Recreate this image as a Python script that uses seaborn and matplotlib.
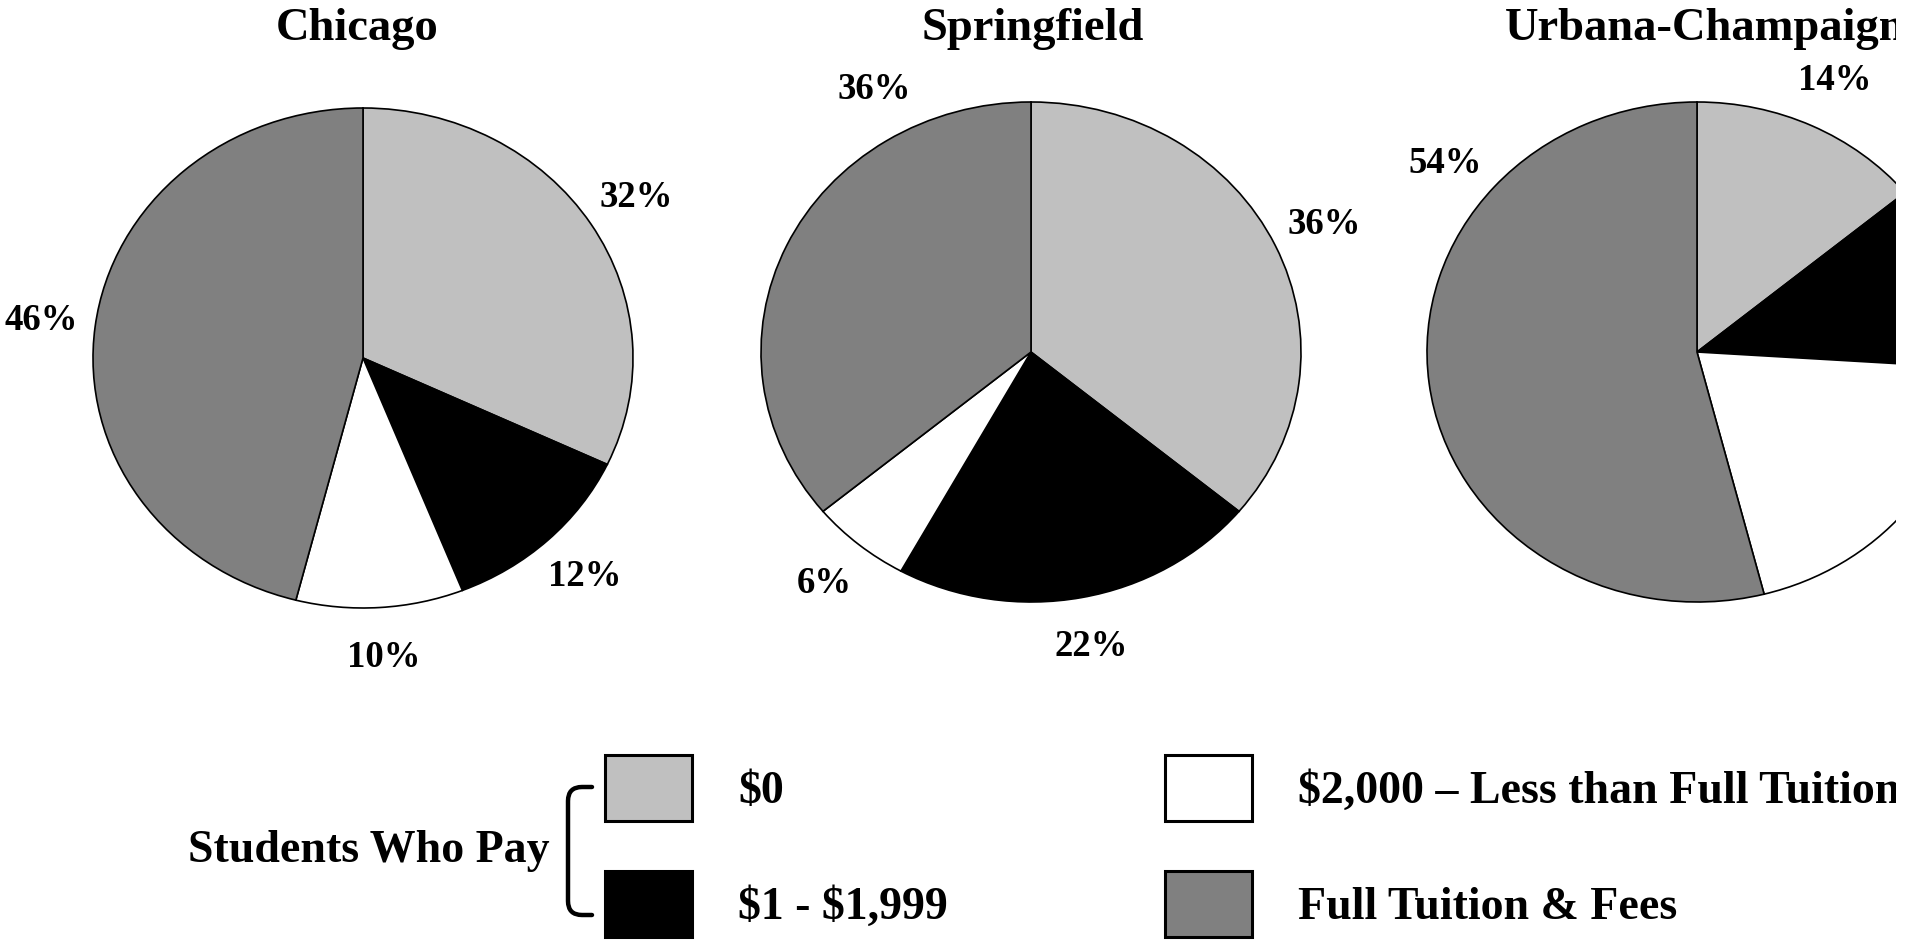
import matplotlib
matplotlib.use("Agg")
import numpy as np
import matplotlib.pyplot as plt
from matplotlib.path import Path
from matplotlib.patches import PathPatch, Rectangle
import seaborn as sns

# Share of students by amount paid toward tuition, per campus (percent)
categories = [r"\$0", r"\$1 - \$1,999", "\\$2,000 \u2013 Less than Full Tuition", "Full Tuition & Fees"]
campuses = ["Chicago", "Springfield", "Urbana-Champaign"]
chicago = [32, 12, 10, 46]
springfield = [36, 22, 6, 36]
urbana_champaign = [14, 12, 20, 54]
shares = [chicago, springfield, urbana_champaign]

sns.set_theme(style="white")
plt.rcParams["font.family"] = ["Liberation Serif", "DejaVu Serif"]
plt.rcParams["font.weight"] = "bold"
plt.rcParams["text.color"] = "black"

palette = sns.color_palette(["#c0c0c0", "#000000", "#ffffff", "#808080"])

W, H = 1918, 940
fig = plt.figure(figsize=(W / 100, H / 100), dpi=100)
fig.patch.set_facecolor("white")


def fx(x):
    return x / W


def fy(y):
    return (H - y) / H


# pie centres and semi-axes in pixels, measured from the top-left corner
centres = [(363, 358), (1031, 352), (1697, 352)]
title_x = [357, 1033, 1705]
RX, RY = 270, 250
LIM = 1.3
LABEL_DIST = 1.2
# labels placed away from the middle of their wedge (degrees clockwise from 12 o'clock)
label_angle = {(1, 3): 331, (2, 3): 309}

first_wedges = None
for i, (name, vals) in enumerate(zip(campuses, shares)):
    cx, cy = centres[i]
    ax = fig.add_axes([fx(cx - LIM * RX), fy(cy + LIM * RY),
                       2 * LIM * RX / W, 2 * LIM * RY / H])
    wedges, _ = ax.pie(vals, colors=palette, startangle=90, counterclock=False,
                       wedgeprops=dict(edgecolor="black", linewidth=1.2))
    ax.set_aspect("auto")
    ax.set_xlim(-LIM, LIM)
    ax.set_ylim(-LIM, LIM)
    ax.axis("off")
    if first_wedges is None:
        first_wedges = wedges

    cum = np.cumsum([0] + vals)
    total = cum[-1]
    for j, v in enumerate(vals):
        mid = (cum[j] + v / 2) / total * 360
        ang = np.deg2rad(label_angle.get((i, j), mid))
        ax.text(LABEL_DIST * np.sin(ang), LABEL_DIST * np.cos(ang), f"{v}%",
                ha="center", va="center", fontsize=26.5, fontweight="bold",
                color="black", clip_on=False)

    fig.text(fx(title_x[i]), fy(40), name, ha="center", va="baseline",
             fontsize=33.5, fontweight="bold", color="black")

# legend in two columns, with the first column bracketed
leg = fig.legend(handles=first_wedges, labels=categories, ncol=2,
                 loc="upper left", bbox_to_anchor=(fx(605), fy(755)),
                 frameon=False, fontsize=33, handlelength=1.9, handleheight=1.84,
                 handletextpad=1.0, labelspacing=1.09, columnspacing=4.75,
                 borderpad=0, borderaxespad=0, labelcolor="black")
for h in leg.legend_handles:
    h.set_linewidth(2.2)

fig.text(fx(550), fy(862), "Students Who Pay", ha="right", va="baseline",
         fontsize=33, fontweight="bold", color="black")

bx, top, bot, tip, r = 568, 787, 915, 592, 14
verts = [(tip, top), (bx + r, top), (bx, top), (bx, top + r),
         (bx, bot - r), (bx, bot), (bx + r, bot), (tip, bot)]
codes = [Path.MOVETO, Path.LINETO, Path.CURVE3, Path.CURVE3,
         Path.LINETO, Path.CURVE3, Path.CURVE3, Path.LINETO]
brace = Path([(fx(x), fy(y)) for x, y in verts], codes)
fig.add_artist(PathPatch(brace, fill=False, lw=3.2, edgecolor="black",
                         capstyle="round", joinstyle="round",
                         transform=fig.transFigure))

# right margin of the page
fig.add_artist(Rectangle((fx(1896), 0), 1, 1, transform=fig.transFigure,
                         facecolor="white", edgecolor="none", zorder=1000))

fig.savefig("out.png", dpi=100, facecolor="white")
